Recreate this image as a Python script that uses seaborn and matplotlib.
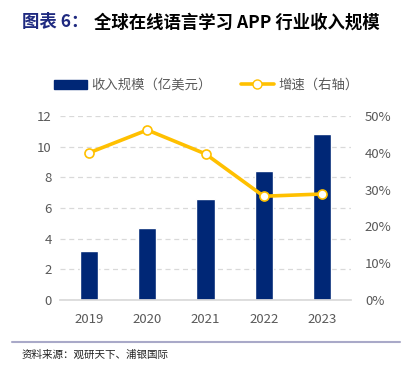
import matplotlib
matplotlib.use("Agg")
import matplotlib.pyplot as plt
import numpy as np
import pandas as pd
import seaborn as sns
from matplotlib.lines import Line2D
from matplotlib.patches import Patch

years = ["2019", "2020", "2021", "2022", "2023"]
revenue = [3.2, 4.7, 6.6, 8.4, 10.8]          # 亿美元
growth = [0.40, 0.462, 0.397, 0.282, 0.288]   # 增速

NAVY = "#002776"
GOLD = "#FFC000"
GREY = "#595959"

sns.set_theme(style="white")
plt.rcParams["font.family"] = ["Noto Sans CJK SC", "DejaVu Sans"]

fig = plt.figure(figsize=(4.12, 3.73), dpi=100)
ax = fig.add_axes([0.1456, 0.1957, 0.7064, 0.4933])

df = pd.DataFrame({"year": years, "revenue": revenue, "growth": growth})
sns.barplot(data=df, x="year", y="revenue", color=NAVY, width=0.31,
            saturation=1, ax=ax, zorder=2)
ax.set_ylim(0, 12)
ax.set_yticks(np.arange(0, 13, 2))
ax.set_xlim(-0.5, 4.5)
ax.set_xlabel("")
ax.set_ylabel("")
ax.yaxis.grid(True, linestyle=(0, (4, 3)), color="#D9D9D9", linewidth=0.9)
ax.set_axisbelow(True)
for s in ["top", "right", "left"]:
    ax.spines[s].set_visible(False)
ax.spines["bottom"].set_color("#D9D9D9")
ax.tick_params(axis="both", length=0, labelsize=9.5, labelcolor=GREY, pad=6)
ax.tick_params(axis="x", pad=9)

ax2 = ax.twinx()
sns.lineplot(x=np.arange(len(years)), y=growth, ax=ax2, color=GOLD,
             linewidth=2.6, marker="o", markersize=6.5,
             markerfacecolor="white", markeredgecolor=GOLD,
             markeredgewidth=1.2, zorder=5)
ax2.set_ylim(0, 0.5)
ax2.set_yticks(np.arange(0, 0.51, 0.1))
ax2.set_yticklabels([f"{int(round(v * 100))}%" for v in np.arange(0, 0.51, 0.1)])
ax2.set_xlim(-0.5, 4.5)
for s in ["top", "right", "left", "bottom"]:
    ax2.spines[s].set_visible(False)
ax2.tick_params(axis="y", length=0, labelsize=9.5, labelcolor=GREY, pad=10)

handles = [
    Patch(facecolor=NAVY, edgecolor=NAVY),
    Line2D([0], [0], color=GOLD, linewidth=2.6, marker="o", markersize=6.5,
           markerfacecolor="white", markeredgecolor=GOLD),
]
fig.legend(handles, ["收入规模（亿美元）", "增速（右轴）"], loc="center",
           bbox_to_anchor=(0.5, 0.772), ncol=2, frameon=False, fontsize=9.6,
           labelcolor=GREY, handlelength=2.5, columnspacing=2.2,
           handletextpad=0.3)

fig.text(0.053, 0.94, "图表 6：", color="#1F2A80", fontsize=12.5,
         fontweight="bold", va="center")
fig.text(0.228, 0.94, "全球在线语言学习 APP 行业收入规模", color="black",
         fontsize=12.5, fontweight="bold", va="center")

fig.add_artist(Line2D([0.03, 0.97], [0.083, 0.083], color="#A9A9C8",
                      linewidth=1.5, transform=fig.transFigure))
fig.text(0.053, 0.048, "资料来源：观研天下、浦银国际", fontsize=7.6,
         color="#222222", va="center")

fig.savefig("out.png", dpi=100)
